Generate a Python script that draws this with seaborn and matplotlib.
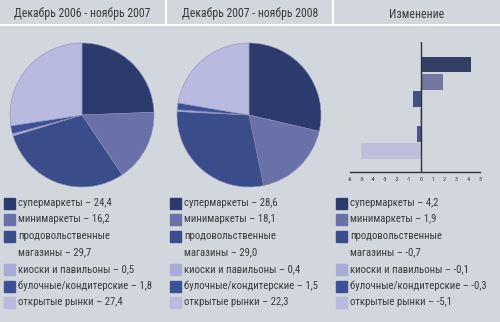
import matplotlib
matplotlib.use("Agg")
import matplotlib.pyplot as plt
import seaborn as sns
import pandas as pd
from matplotlib.patches import Rectangle
from matplotlib.lines import Line2D
from matplotlib import font_manager

sns.set_theme(style="white")

# pick a narrow face if one is installed
cands = [f for f in font_manager.fontManager.ttflist
         if ("Narrow" in f.name or "Condensed" in f.name or
             str(f.stretch) in ("condensed", "semi-condensed", "550", "600", "500", "700"))
         and f.style == "normal"]
narrow_family = None
narrow_stretch = "normal"
for pref in ["Liberation Sans Narrow", "Roboto Condensed", "DejaVu Sans Condensed", "Open Sans Condensed"]:
    if any(f.name == pref for f in cands):
        narrow_family = pref
        break
if narrow_family is None:
    for f in cands:
        if f.name in ("DejaVu Sans", "Open Sans", "Roboto", "Noto Sans", "Liberation Sans"):
            narrow_family = f.name
            narrow_stretch = f.stretch
            break
if narrow_family is None:
    narrow_family = "Liberation Sans"
plt.rcParams['font.family'] = [narrow_family, 'DejaVu Sans']
plt.rcParams['font.stretch'] = narrow_stretch

headers = ["Декабрь 2006 - ноябрь 2007", "Декабрь 2007 - ноябрь 2008", "Изменение"]
categories = ["супермаркеты", "минимаркеты", "продовольственные\nмагазины",
              "киоски и павильоны", "булочные/кондитерские", "открытые рынки"]
values_2007 = [24.4, 16.2, 29.7, 0.5, 1.8, 27.4]
values_2008 = [28.6, 18.1, 29.0, 0.4, 1.5, 22.3]
change = [4.2, 1.9, -0.7, -0.1, -0.3, -5.1]
labels_2007 = ["24,4", "16,2", "29,7", "0,5", "1,8", "27,4"]
labels_2008 = ["28,6", "18,1", "29,0", "0,4", "1,5", "22,3"]
labels_change = ["4,2", "1,9", "-0,7", "-0,1", "-0,3", "-5,1"]
ticks = list(range(-6, 6))

colors = ["#2c3a6e", "#6a70a8", "#3b4c8b", "#a9acd6", "#3e5196", "#b9badf"]
bg = "#d2d7de"
txt = "#3a3a3a"

W, H = 500, 322
fig = plt.figure(figsize=(W / 100, H / 100), dpi=100, facecolor=bg)
renderer = fig.canvas.get_renderer()

def fit_size(s, target_px, base=10):
    t = fig.text(0, 0, s, fontsize=base)
    w = t.get_window_extent(renderer=renderer).width
    t.remove()
    return base * target_px / w

fs = min(fit_size("булочные/кондитерские – 1,8", 134), 9)
hfs = min(fit_size(headers[0], 136), 9)

def px_axes(x, y, w, h):
    return fig.add_axes([x / W, 1 - (y + h) / H, w / W, h / H])

# header
for i, (cx, t) in enumerate(zip([82, 250, 417], headers)):
    fig.text(cx / W, 1 - 14 / H, t, ha="center", va="center", fontsize=hfs, color=txt)
fig.add_artist(Line2D([0, 1], [1 - 25 / H] * 2, color="white", lw=1.5))
for xx in [166, 333]:
    fig.add_artist(Line2D([xx / W] * 2, [1, 1 - 25 / H], color="white", lw=1.5))

# pies
for cx, vals in [(82, values_2007), (249, values_2008)]:
    ax = px_axes(cx - 72, 43, 144, 144)
    ax.pie(vals, colors=colors, startangle=90, counterclock=False,
           wedgeprops=dict(linewidth=0.4, edgecolor="#8a8fb8"))
    ax.set_xlim(-1, 1)
    ax.set_ylim(-1, 1)
    ax.set_aspect("equal")
    ax.set_facecolor(bg)
    ax.axis("off")

# bar chart
df = pd.DataFrame({"cat": categories, "change": change})
axb = px_axes(350, 42, 130, 130)
axb.set_facecolor(bg)
sns.barplot(data=df, x="change", y="cat", hue="cat", palette=colors, legend=False,
            ax=axb, width=0.9, orient="h", edgecolor="none")
axb.set_xlim(-6, 5)
axb.set_ylim(5 + 1.21, -1.3)
axb.axvline(0, color="#333333", lw=1.0)
for s in ["top", "right", "left"]:
    axb.spines[s].set_visible(False)
axb.spines["bottom"].set_color("#333333")
axb.spines["bottom"].set_linewidth(1.0)
axb.set_yticks([])
axb.set_xticks(ticks)
axb.set_xticklabels([str(t) for t in ticks], fontsize=4.5, color=txt)
axb.tick_params(axis="x", direction="inout", length=5, width=0.8, colors="#333333",
                labelcolor=txt, pad=1)
axb.set_xlabel("")
axb.set_ylabel("")

# legends
rows = [203, 219, 236, 252, 269, 286, 302]
row_idx = [0, 1, 2, 4, 5, 6]
for x0, labs in [(4, labels_2007), (170, labels_2008), (336, labels_change)]:
    for k, (cat, lab) in enumerate(zip(categories, labs)):
        y = rows[row_idx[k]]
        fig.add_artist(Rectangle(((x0) / W, 1 - (y + 5.5) / H), 11 / W, 11 / H,
                                 transform=fig.transFigure, color=colors[k]))
        if "\n" in cat:
            first, second = cat.split("\n")
            fig.text((x0 + 14) / W, 1 - y / H, first, fontsize=fs, color=txt, va="center")
            fig.text((x0 + 14) / W, 1 - rows[row_idx[k] + 1] / H, f"{second} – {lab}",
                     fontsize=fs, color=txt, va="center")
        else:
            fig.text((x0 + 14) / W, 1 - y / H, f"{cat} – {lab}", fontsize=fs,
                     color=txt, va="center")

fig.savefig("out.png", dpi=100, facecolor=bg)
